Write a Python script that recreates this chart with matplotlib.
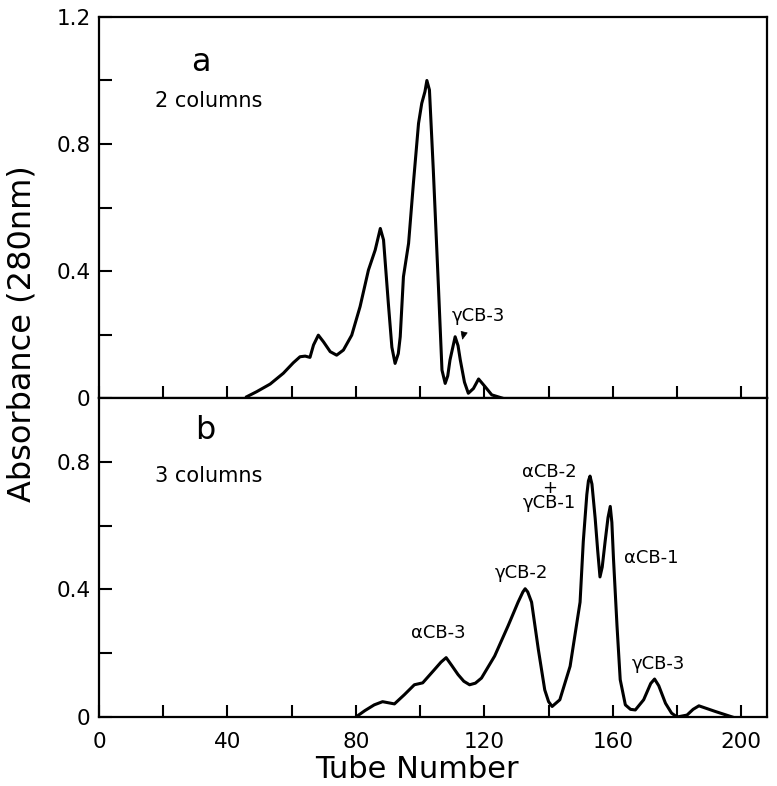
import numpy as np
import matplotlib
matplotlib.use('Agg')
import matplotlib.pyplot as plt

# panel a: 2 columns (tube number, absorbance at 280 nm)
tube_a = [46.0, 49.1, 53.3, 57.4, 60.5, 62.6, 64.2, 65.7, 66.8, 68.3, 69.9,
          72.0, 74.0, 76.1, 78.7, 81.3, 83.9, 86.0, 87.6, 88.6, 90.1, 91.2,
          92.2, 93.2, 93.8, 94.8, 96.4, 97.9, 99.5, 100.5, 101.5, 102.1,
          102.9, 104.1, 105.7, 106.8, 107.8, 108.6, 109.3, 110.9, 111.8,
          112.5, 113.8, 115.0, 116.6, 118.2, 120.2, 122.3, 125.5]
abs_a = [0.004, 0.02, 0.044, 0.078, 0.111, 0.13, 0.132, 0.128, 0.167, 0.198,
         0.177, 0.146, 0.135, 0.151, 0.198, 0.288, 0.403, 0.466, 0.534, 0.498,
         0.298, 0.16, 0.109, 0.14, 0.193, 0.382, 0.487, 0.676, 0.865, 0.928,
         0.965, 1.0, 0.97, 0.718, 0.35, 0.088, 0.046, 0.07, 0.12, 0.193,
         0.165, 0.12, 0.05, 0.015, 0.03, 0.06, 0.036, 0.01, 0.0]

# panel b: 3 columns
tube_b = [80.0, 82.8, 85.7, 88.3, 92.0, 95.1, 98.2, 100.8, 104.5, 106.5,
          108.1, 109.8, 111.8, 113.6, 115.4, 117.2, 119.1, 123.2, 127.4,
          130.5, 132.0, 132.7, 133.5, 134.7, 136.8, 138.8, 140.0, 141.1,
          143.5, 146.7, 149.8, 150.8, 151.9, 152.4, 152.9, 153.5, 154.5,
          155.3, 156.0, 156.7, 157.6, 158.5, 159.2, 159.7, 160.2, 161.3,
          162.3, 163.9, 165.5, 167.0, 169.6, 171.8, 173.0, 174.3, 176.4,
          178.3, 180.0, 183.1, 185.0, 186.8, 192.0, 197.2]
abs_b = [0.0, 0.02, 0.038, 0.048, 0.041, 0.07, 0.101, 0.107, 0.149, 0.172,
         0.186, 0.162, 0.133, 0.112, 0.101, 0.106, 0.122, 0.191, 0.286,
         0.36, 0.392, 0.402, 0.392, 0.36, 0.212, 0.085, 0.048, 0.033,
         0.054, 0.159, 0.36, 0.55, 0.697, 0.74, 0.755, 0.73, 0.623,
         0.52, 0.439, 0.47, 0.55, 0.625, 0.66, 0.61, 0.497, 0.286,
         0.117, 0.038, 0.024, 0.022, 0.054, 0.105, 0.119, 0.098, 0.043,
         0.012, 0.0, 0.006, 0.024, 0.035, 0.017, 0.0]

peak_labels_b = ['\u03b1CB-3', '\u03b3CB-2', '\u03b1CB-2\n+\n\u03b3CB-1',
                 '\u03b1CB-1', '\u03b3CB-3']
peak_x_b = [105.8, 131.6, 140.2, 171.9, 174.1]
peak_y_b = [0.264, 0.451, 0.719, 0.497, 0.166]

plt.rcParams['font.family'] = 'DejaVu Sans'

fig = plt.figure(figsize=(7.77, 7.86), dpi=100)
ax1 = fig.add_axes([0.1274, 0.4936, 0.8597, 0.4848])
ax2 = fig.add_axes([0.1274, 0.0878, 0.8597, 0.4059])

lw = 2.2
ax1.plot(tube_a, abs_a, color='black', lw=lw, solid_joinstyle='round')
ax2.plot(tube_b, abs_b, color='black', lw=lw, solid_joinstyle='round')

ax1.set_ylim(0, 1.2)
ax2.set_ylim(0, 1.0)
for ax in (ax1, ax2):
    ax.set_xlim(0, 208)
    ax.set_xticks(np.arange(0, 201, 20), minor=True)
    ax.set_xticks(np.arange(0, 201, 40))
    ax.tick_params(axis='both', which='both', direction='in', length=9,
                   width=1.5, top=False, right=False, labelsize=15.5)
    ax.tick_params(axis='x', pad=11)
    ax.tick_params(axis='y', pad=6)
    for s in ax.spines.values():
        s.set_linewidth(1.6)

ax1.set_yticks([0, 0.4, 0.8, 1.2])
ax1.set_yticks([0.2, 0.6, 1.0], minor=True)
ax1.set_yticklabels(['0', '0.4', '0.8', '1.2'])
ax1.tick_params(axis='x', labelbottom=False)

ax2.set_yticks([0, 0.4, 0.8])
ax2.set_yticks([0.2, 0.6], minor=True)
ax2.set_yticklabels(['0', '0.4', '0.8'])
ax2.set_xticklabels(['0', '40', '80', '120', '160', '200'])

# panel annotations
ax1.text(31.7, 1.057, 'a', fontsize=23, ha='center', va='center')
ax1.text(17.3, 0.934, '2 columns', fontsize=15, ha='left', va='center')
ax2.text(33.2, 0.897, 'b', fontsize=23, ha='center', va='center')
ax2.text(17.3, 0.755, '3 columns', fontsize=15, ha='left', va='center')

ax1.text(118.0, 0.257, '\u03b3CB-3', fontsize=13, ha='center', va='center')
ax1.annotate('', xy=(113.0, 0.177), xytext=(113.9, 0.216),
             arrowprops=dict(arrowstyle='wedge,tail_width=0.45',
                             color='black', lw=0.5))

for lab, x, y in zip(peak_labels_b, peak_x_b, peak_y_b):
    ax2.text(x, y, lab, fontsize=13, ha='center', va='center',
             multialignment='center', linespacing=0.8)

fig.text(22 / 777, 1 - 334 / 786, 'Absorbance (280nm)', rotation=90,
         fontsize=23, ha='center', va='center')
fig.text(416.5 / 777, 1 - 770 / 786, 'Tube Number', fontsize=22,
         ha='center', va='center')

fig.savefig('out.png', dpi=100)
